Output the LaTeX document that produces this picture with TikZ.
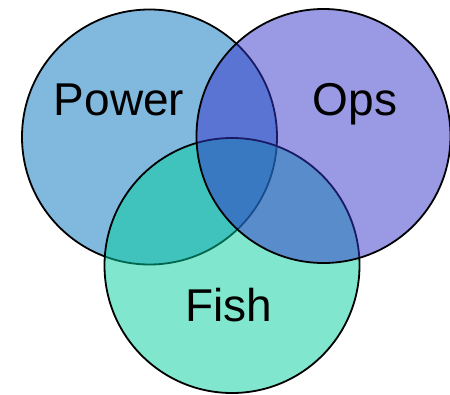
\documentclass[tikz,border=0pt]{standalone}
\usepackage{fontspec}
\setmainfont{Liberation Sans}
\definecolor{powerc}{RGB}{1,113,189}
\definecolor{fishc}{RGB}{1,205,157}
\definecolor{opsc}{RGB}{51,51,201}
\begin{document}
\begin{tikzpicture}[x=1pt,y=-1pt,
  setcircle/.style={draw=black, line width=1.8pt, fill opacity=0.5, draw opacity=1},
  setlabel/.style={font=\fontsize{46}{50}\selectfont, anchor=base, inner sep=0pt}]
\useasboundingbox (0,0) rectangle (450,394);
\path[setcircle, fill=powerc] (149.5,137) circle[radius=127.5];
\path[setcircle, fill=fishc] (232,265.5) circle[radius=127.5];
\path[setcircle, fill=opsc] (323.5,136) circle[radius=127];
\node[setlabel] (power) at (119,115) {Power};
\node[setlabel] (ops) at (355,115) {Ops};
\node[setlabel] (fish) at (229,321) {Fish};
\end{tikzpicture}
\end{document}
